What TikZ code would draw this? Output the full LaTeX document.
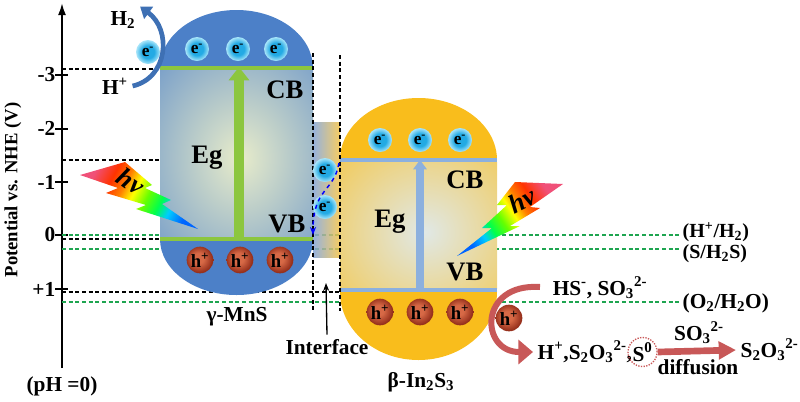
\documentclass[tikz,border=0pt]{standalone}
\usepackage{fontspec}
\setmainfont{Liberation Serif}
\usetikzlibrary{shapes,arrows.meta,positioning,calc}

\definecolor{mnsblue}{RGB}{76,128,200}
\definecolor{mnslight}{RGB}{232,236,202}
\definecolor{inyellow}{RGB}{249,189,28}
\definecolor{inlight}{RGB}{224,232,230}
\definecolor{cbgreen}{RGB}{140,198,63}
\definecolor{cbblue}{RGB}{140,176,222}
\definecolor{lvlgreen}{RGB}{30,165,80}
\definecolor{harrow}{RGB}{62,112,180}
\definecolor{oxred}{RGB}{200,88,88}
\definecolor{ecyan}{RGB}{35,170,228}
\definecolor{eglow}{RGB}{170,230,250}
\definecolor{hcore}{RGB}{215,105,70}
\definecolor{hedge}{RGB}{150,48,28}
\definecolor{ifblue}{RGB}{132,165,215}
\definecolor{ifyellow}{RGB}{245,196,72}
\definecolor{boltpink}{RGB}{240,80,120}

\pgfdeclarehorizontalshading{rainbow}{100bp}{color(0bp)=(boltpink); color(25bp)=(boltpink); color(34bp)=(red!60!orange); color(41bp)=(orange); color(47bp)=(yellow); color(54bp)=(green!60!yellow); color(61bp)=(green!70!cyan); color(67bp)=(cyan!80!blue); color(75bp)=(blue!60!cyan); color(100bp)=(blue!60!cyan)}
\pgfdeclareradialshading{eball}{\pgfpoint{0bp}{0bp}}{color(0bp)=(ecyan); color(13bp)=(ecyan); color(25bp)=(eglow); color(50bp)=(eglow)}
\pgfdeclareradialshading{hball}{\pgfpoint{-4bp}{4bp}}{color(0bp)=(hcore); color(10bp)=(hcore); color(25bp)=(hedge); color(50bp)=(hedge)}

\begin{document}
\begin{tikzpicture}[x=0.75pt, y=-0.75pt, font=\fontsize{16}{18}\selectfont\bfseries,
    elec/.style={circle, inner sep=0pt, minimum size=18pt, shading=eball, font=\fontsize{13}{13}\selectfont\bfseries},
    hole/.style={circle, inner sep=0pt, minimum size=20pt, shading=hball, font=\fontsize{14}{14}\selectfont\bfseries},
    band/.style={font=\fontsize{20}{20}\selectfont\bfseries},
    kdash/.style={black, line width=0.8pt, dash pattern=on 3pt off 2pt},
    gdash/.style={lvlgreen, line width=1pt, dash pattern=on 3pt off 2pt},
    hvtext/.style={font=\fontsize{20}{20}\selectfont\bfseries\itshape}]
    \useasboundingbox (0,0) rectangle (800,401);

    % Potential axis
    \coordinate (axbot) at (62,368);
    \coordinate (axtop) at (62,3);
    \draw[line width=1.5pt, -{Latex[length=9pt,width=6pt]}] (axbot) -- (axtop);
    \draw[line width=1.5pt] (55,75) -- (68,75) (55,128.5) -- (68,128.5) (55,182) -- (68,182)
        (55,235) -- (68,235) (55,289) -- (68,289);
    \node[left] (tm3) at (60,75) {-3};
    \node[left] (tm2) at (60,128.5) {-2};
    \node[left] (tm1) at (60,182) {-1};
    \node[left] (tz) at (60,235) {0};
    \node[left] (tp1) at (60,289) {+1};
    \node[rotate=90, font=\fontsize{14}{16}\selectfont\bfseries] (ylab) at (13,190) {Potential vs. NHE (V)};
    \node (ph) at (62,386) {(pH =0)};

    % Reference levels
    \draw[kdash] (62,69) -- (160,69);
    \draw[kdash] (62,160) -- (160,160);
    \draw[kdash] (62,239) -- (160,239);
    \draw[kdash] (62,292) -- (340,292);
    \draw[gdash] (62,235) -- (680,235);
    \draw[gdash] (62,249) -- (680,249);
    \draw[gdash] (62,302) -- (680,302);

    % Interface
    \shade[left color=ifblue, right color=ifyellow, opacity=0.85] (313,122) rectangle (340,257);

    % gamma-MnS
    \fill[mnsblue] (236.5,68) ellipse [x radius=76.5, y radius=58];
    \fill[mnsblue] (236.5,239) ellipse [x radius=76.5, y radius=56];
    \fill[mnsblue] (160,68) rectangle (313,239);
    \begin{scope}
        \clip (160,70) rectangle (313,237);
        \shade[inner color=mnslight, outer color=mnsblue] (240,158) ellipse [x radius=160, y radius=190];
    \end{scope}

    % beta-In2S3
    \fill[inyellow] (418.5,160) ellipse [x radius=78.5, y radius=62];
    \fill[inyellow] (418.5,292) ellipse [x radius=78.5, y radius=68];
    \fill[inyellow] (340,160) rectangle (497,292);
    \begin{scope}
        \clip (340,162) rectangle (497,288);
        \shade[inner color=inlight, outer color=inyellow] (425,232) ellipse [x radius=170, y radius=160];
    \end{scope}

    % Band edges
    \draw[cbgreen, line width=3pt] (160,68) -- (313,68);
    \draw[cbgreen, line width=3pt] (160,239) -- (313,239);
    \draw[cbblue, line width=3.5pt] (340,160) -- (497,160);
    \draw[cbblue, line width=3.5pt] (340,290) -- (497,290);

    % Band gaps
    \coordinate (mvb) at (239,237);
    \coordinate (mcb) at (239,67);
    \coordinate (ivb) at (420,288);
    \coordinate (icb) at (420,160);
    \draw[cbgreen, line width=7pt, -{Triangle[length=10pt,width=15pt]}] (mvb) -- (mcb);
    \draw[cbblue, line width=6pt, -{Triangle[length=7pt,width=10pt]}] (ivb) -- (icb);

    % Vertical guides
    \draw[kdash] (313,53) -- (313,311);
    \draw[kdash] (340,55) -- (340,311);

    % Carriers
    \node[elec] (em1) at (197,49) {e\textsuperscript{-}};
    \node[elec] (em2) at (238,49) {e\textsuperscript{-}};
    \node[elec] (em3) at (276,49) {e\textsuperscript{-}};
    \node[hole] (hm1) at (200,260) {h\textsuperscript{+}};
    \node[hole] (hm2) at (240,260) {h\textsuperscript{+}};
    \node[hole] (hm3) at (280,260) {h\textsuperscript{+}};
    \node[elec] (ei1) at (380,140) {e\textsuperscript{-}};
    \node[elec] (ei2) at (420,140) {e\textsuperscript{-}};
    \node[elec] (ei3) at (460,140) {e\textsuperscript{-}};
    \node[hole] (hi1) at (380,312) {h\textsuperscript{+}};
    \node[hole] (hi2) at (420,312) {h\textsuperscript{+}};
    \node[hole] (hi3) at (460,312) {h\textsuperscript{+}};
    \node[elec] (eif1) at (325,170) {e\textsuperscript{-}};
    \node[elec] (eif2) at (325,207) {e\textsuperscript{-}};

    % Electron transfer at interface
    \coordinate (tstart) at (339,163);
    \coordinate (tend) at (313,235);
    \draw[blue, dashed, line width=1.1pt, -{Stealth[length=6pt]}] (tstart) .. controls (334,192) and (313,188) .. (tend);

    % Band labels
    \node[band] (cbm) at (285,90) {CB};
    \node[band] (egm) at (207,158) {Eg};
    \node[band] (vbm) at (287,224) {VB};
    \node[band] (cbi) at (465,180) {CB};
    \node[band] (egi) at (390,222) {Eg};
    \node[band] (vbi) at (465,272) {VB};
    \node (mns) at (237,317) {γ-MnS};
    \node (ins) at (421,382) {β-In\textsubscript{2}S\textsubscript{3}};
    \node (iface) at (327,347) {Interface};
    \coordinate (ifacetip) at (326,283);
    \draw[line width=1pt, -{Stealth[length=6pt]}] (iface.north) -- (ifacetip);

    % Hydrogen evolution
    \node (htwo) at (123,20) {H\textsubscript{2}};
    \node[elec] (efree) at (148,52) {e\textsuperscript{-}};
    \node (hplus) at (115,86) {H\textsuperscript{+}};
    \draw[harrow, line width=3.5pt, -{Triangle[length=8pt,width=11pt]}] (hplus.east) .. controls (168,78) and (172,30) .. (htwo.north east);

    % Light
    \shade[shading=rainbow, shading angle=-28] (80,175) -- (125,162) -- (152,185) -- (145,188) -- (171,200)
        -- (162,204) -- (198,229) -- (136,209) -- (146,205) -- (106,193) -- (118,188) -- cycle;
    \node[hvtext, rotate=-34] (hvl) at (131,181) {hv};
    \shade[shading=rainbow, shading angle=214] (563,184) -- (515,182) -- (497,205) -- (507,205) -- (482,228)
        -- (492,228) -- (457,256) -- (520,226) -- (510,226) -- (540,208) -- (530,207) -- cycle;
    \node[hvtext, rotate=27] (hvr) at (522,200) {hv};

    % Redox potentials
    \node[right, font=\fontsize{15}{15}\selectfont\bfseries] (hlev) at (678,232) {(H\textsuperscript{+}/H\textsubscript{2})};
    \node[right, font=\fontsize{15}{15}\selectfont\bfseries] (slev) at (678,254) {(S/H\textsubscript{2}S)};
    \node[right] (olev) at (678,303) {(O\textsubscript{2}/H\textsubscript{2}O)};

    % Sacrificial agent oxidation
    \node (sac) at (600,288) {HS\textsuperscript{-}, SO\textsubscript{3}\textsuperscript{2-}};
    \node[hole] (hfree) at (509,318) {h\textsuperscript{+}};
    \node[right] (prod) at (533,352) {H\textsuperscript{+},S\textsubscript{2}O\textsubscript{3}\textsuperscript{2-},};
    \node[circle, draw=oxred, densely dotted, line width=1pt, inner sep=0.5pt, right=-7pt of prod] (szero) {S\textsuperscript{0}};
    \node[right] (final) at (736,350) {S\textsubscript{2}O\textsubscript{3}\textsuperscript{2-}};
    \coordinate (sacstart) at (540,287);
    \draw[oxred, line width=4.5pt, -{Triangle[length=11pt,width=18pt]}] (sacstart) .. controls (478,283) and (480,352) .. (prod.west);
    \draw[oxred, line width=5pt, -{Triangle[length=13pt,width=13pt]}] (szero.east) -- (final.west);
    \node (so3) at (699,333) {SO\textsubscript{3}\textsuperscript{2-}};
    \node (diff) at (698,367) {diffusion};
\end{tikzpicture}
\end{document}
